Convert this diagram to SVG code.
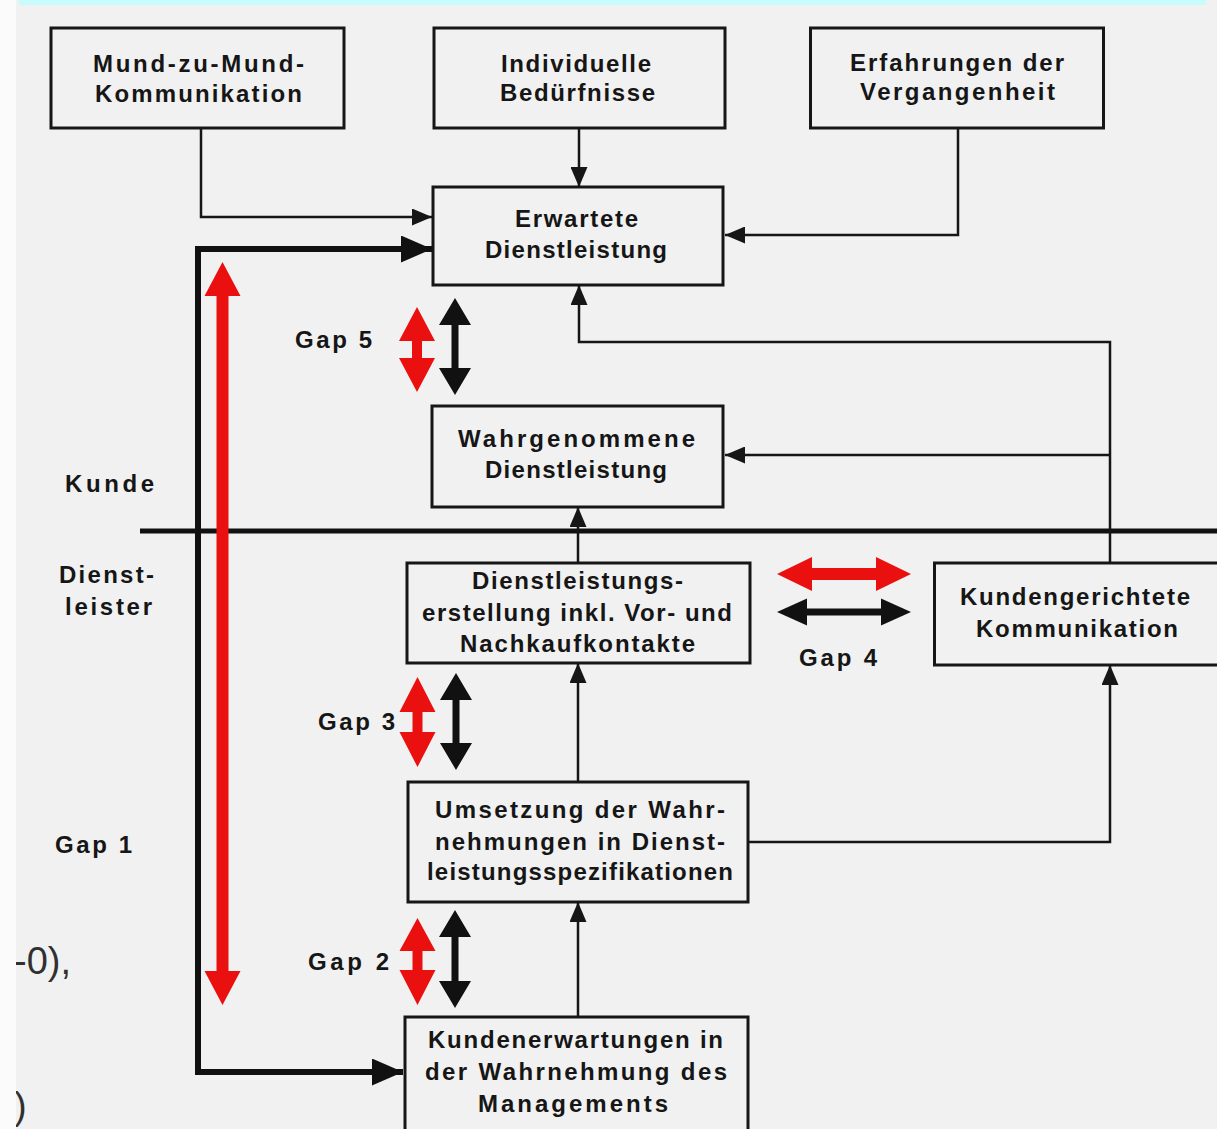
<svg xmlns="http://www.w3.org/2000/svg" width="1217" height="1129" viewBox="0 0 1217 1129">
  <style>
    .box { fill: none; stroke: #161616; stroke-width: 3; }
    .t { font-family: "Liberation Sans", Arial, sans-serif; font-weight: bold; font-size: 24px; fill: #161616; text-anchor: middle; }
    .lbl { font-family: "Liberation Sans", Arial, sans-serif; font-weight: bold; font-size: 24px; fill: #161616; }
    .edge { font-family: "Liberation Sans", Arial, sans-serif; font-size: 38px; fill: #303030; }
    .thin { fill: none; stroke: #161616; stroke-width: 2.5; }
    .thick { fill: none; stroke: #111; stroke-width: 6; stroke-linejoin: miter; }
    .red { fill: #ea1010; }
    .blk { fill: #111; }
  </style>
  <defs>
    <marker id="ah" markerUnits="userSpaceOnUse" markerWidth="20" markerHeight="17" refX="20" refY="8.5" orient="auto">
      <path d="M0,0 L20,8.5 L0,17 z" fill="#161616"/>
    </marker>
    <marker id="ahb" markerUnits="userSpaceOnUse" markerWidth="31" markerHeight="27" refX="31" refY="13.5" orient="auto">
      <path d="M0,0 L31,13.5 L0,27 z" fill="#111"/>
    </marker>
    <clipPath id="page">
      <rect x="16" y="0" width="1201" height="1129"/>
    </clipPath>
  </defs>

  <!-- paper -->
  <rect x="0" y="0" width="1217" height="1129" fill="#fbfbfb"/>
  <rect x="16" y="0" width="1201" height="1129" fill="#f1f1f1"/>
  <rect x="19" y="0" width="1187" height="5" fill="#c8fbfb"/>

  <!-- neighbouring page text, cut at the page edge -->
  <g clip-path="url(#page)">
    <text class="edge" x="14" y="974">-0),</text>
    <text class="edge" x="14" y="1119" font-size="36">)</text>
  </g>

  <!-- customer / provider divider -->
  <path d="M140,531 H1217" stroke="#111" stroke-width="5" fill="none"/>

  <!-- connectors -->
  <g id="connectors">
    <path class="thin" d="M201,128 V217 H432" marker-end="url(#ah)"/>
    <path class="thin" d="M579,128 V187" marker-end="url(#ah)"/>
    <path class="thin" d="M958,128 V235 H725" marker-end="url(#ah)"/>
    <path class="thin" d="M1110,563 V342 H579 V285" marker-end="url(#ah)"/>
    <path class="thin" d="M1110,455 H725" marker-end="url(#ah)"/>
    <path class="thin" d="M578,563 V507" marker-end="url(#ah)"/>
    <path class="thin" d="M578,782 V663" marker-end="url(#ah)"/>
    <path class="thin" d="M578,1017 V902" marker-end="url(#ah)"/>
    <path class="thin" d="M748,842 H1110 V665" marker-end="url(#ah)"/>
    <path class="thick" d="M195,249 H432" marker-end="url(#ahb)"/>
    <path class="thick" d="M198,246 V1072 H403" marker-end="url(#ahb)"/>
  </g>

  <!-- gap arrows -->
  <g id="gap-arrows">
    <!-- Gap 1 -->
    <polygon class="red" points="222.5,262 240.5,296 228.5,296 228.5,971 240.5,971 222.5,1005 204.5,971 216.5,971 216.5,296 204.5,296"/>
    <!-- Gap 5 -->
    <polygon class="red" points="417,307 435,341 422,341 422,358 435,358 417,392 399,358 412,358 412,341 399,341"/>
    <polygon class="blk" points="455,298 471,325 458.5,325 458.5,368 471,368 455,395 439,368 451.5,368 451.5,325 439,325"/>
    <!-- Gap 3 -->
    <polygon class="red" points="417.5,677 435.5,712 422.5,712 422.5,732 435.5,732 417.5,767 399.5,732 412.5,732 412.5,712 399.5,712"/>
    <polygon class="blk" points="456,673 472,700 459.5,700 459.5,743 472,743 456,770 440,743 452.5,743 452.5,700 440,700"/>
    <!-- Gap 2 -->
    <polygon class="red" points="417.5,918 435.5,951 422.5,951 422.5,970 435.5,970 417.5,1005 399.5,970 412.5,970 412.5,951 399.5,951"/>
    <polygon class="blk" points="455,910 471,937 458.5,937 458.5,981 471,981 455,1008 439,981 451.5,981 451.5,937 439,937"/>
    <!-- Gap 4 -->
    <polygon class="red" points="777,574 812,557 812,568 876,568 876,557 911,574 876,591 876,580 812,580 812,591"/>
    <polygon class="blk" points="777,612 807,598.5 807,608.5 881,608.5 881,598.5 911,612 881,625.5 881,615.5 807,615.5 807,625.5"/>
  </g>

  <!-- nodes -->
  <g id="mund-zu-mund">
    <rect class="box" x="51" y="28" width="293" height="100"/>
    <text class="t" x="198.5" y="72" textLength="211" lengthAdjust="spacing">Mund-zu-Mund-</text>
    <text class="t" x="198.5" y="102" textLength="207" lengthAdjust="spacing">Kommunikation</text>
  </g>
  <g id="beduerfnisse">
    <rect class="box" x="434" y="28" width="291" height="100"/>
    <text class="t" x="576" y="72" textLength="150" lengthAdjust="spacing">Individuelle</text>
    <text class="t" x="577.5" y="101" textLength="155" lengthAdjust="spacing">Bedürfnisse</text>
  </g>
  <g id="erfahrungen">
    <rect class="box" x="810.5" y="28" width="293" height="100"/>
    <text class="t" x="957" y="71" textLength="214" lengthAdjust="spacing">Erfahrungen der</text>
    <text class="t" x="957.5" y="100" textLength="195" lengthAdjust="spacing">Vergangenheit</text>
  </g>
  <g id="erwartete-dl">
    <rect class="box" x="433" y="187" width="290" height="98"/>
    <text class="t" x="576.5" y="227" textLength="123" lengthAdjust="spacing">Erwartete</text>
    <text class="t" x="576" y="258" textLength="182" lengthAdjust="spacing">Dienstleistung</text>
  </g>
  <g id="wahrgenommene-dl">
    <rect class="box" x="432" y="406" width="291" height="101"/>
    <text class="t" x="576.5" y="447" textLength="237" lengthAdjust="spacing">Wahrgenommene</text>
    <text class="t" x="576" y="478" textLength="182" lengthAdjust="spacing">Dienstleistung</text>
  </g>
  <g id="dl-erstellung">
    <rect class="box" x="407" y="563" width="343" height="100"/>
    <text class="t" x="577.5" y="589" textLength="211" lengthAdjust="spacing">Dienstleistungs-</text>
    <text class="t" x="577" y="621" textLength="310" lengthAdjust="spacing">erstellung inkl. Vor- und</text>
    <text class="t" x="577.5" y="652" textLength="235" lengthAdjust="spacing">Nachkaufkontakte</text>
  </g>
  <g id="kundengerichtete-kommunikation">
    <rect class="box" x="934.5" y="563" width="300" height="102"/>
    <text class="t" x="1075" y="605" textLength="230" lengthAdjust="spacing">Kundengerichtete</text>
    <text class="t" x="1077" y="637" textLength="202" lengthAdjust="spacing">Kommunikation</text>
  </g>
  <g id="umsetzung">
    <rect class="box" x="408" y="782" width="340" height="120"/>
    <text class="t" x="580" y="818" textLength="290" lengthAdjust="spacing">Umsetzung der Wahr-</text>
    <text class="t" x="580" y="850" textLength="290" lengthAdjust="spacing">nehmungen in Dienst-</text>
    <text class="t" x="580" y="880" textLength="306" lengthAdjust="spacing">leistungsspezifikationen</text>
  </g>
  <g id="kundenerwartungen-management">
    <rect class="box" x="405" y="1017" width="343" height="130"/>
    <text class="t" x="575.5" y="1048" textLength="295" lengthAdjust="spacing">Kundenerwartungen in</text>
    <text class="t" x="576" y="1080" textLength="302" lengthAdjust="spacing">der Wahrnehmung des</text>
    <text class="t" x="573" y="1112" textLength="190" lengthAdjust="spacing">Managements</text>
  </g>

  <!-- side and gap labels -->
  <g id="labels">
    <text class="t" x="109.5" y="492" textLength="89" lengthAdjust="spacing">Kunde</text>
    <text class="t" x="106.5" y="583" textLength="95" lengthAdjust="spacing">Dienst-</text>
    <text class="t" x="108.5" y="615" textLength="87" lengthAdjust="spacing">leister</text>
    <text class="lbl" x="295" y="348" textLength="77" lengthAdjust="spacing">Gap 5</text>
    <text class="lbl" x="799" y="666" textLength="78" lengthAdjust="spacing">Gap 4</text>
    <text class="lbl" x="318" y="730" textLength="77" lengthAdjust="spacing">Gap 3</text>
    <text class="lbl" x="55" y="853" textLength="77" lengthAdjust="spacing">Gap 1</text>
    <text class="lbl" x="308" y="970" textLength="81" lengthAdjust="spacing">Gap 2</text>
  </g>
</svg>
